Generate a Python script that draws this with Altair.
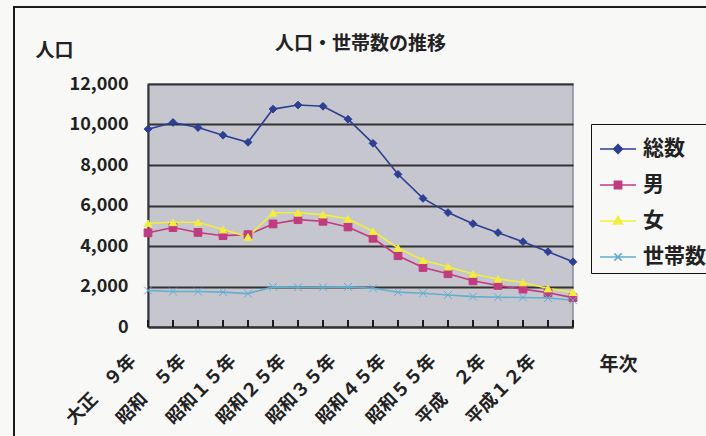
import json
import altair as alt
import pandas as pd

categories = ["大正　９年", "大正１４年", "昭和　５年", "昭和１０年", "昭和１５年", "昭和２２年",
              "昭和２５年", "昭和３０年", "昭和３５年", "昭和４０年", "昭和４５年", "昭和５０年",
              "昭和５５年", "昭和６０年", "平成　２年", "平成　７年", "平成１２年", "平成１７年"]
shown_labels = ["大正　９年", "昭和　５年", "昭和１５年", "昭和２５年", "昭和３５年",
                "昭和４５年", "昭和５５年", "平成　２年", "平成１２年"]
series_names = ["総数", "男", "女", "世帯数"]
total = [9770, 10100, 9850, 9470, 9120, 10760, 10960, 10900, 10260, 9070,
         7540, 6350, 5650, 5100, 4660, 4210, 3720, 3220]
male = [4650, 4910, 4670, 4510, 4560, 5090, 5300, 5220, 4940, 4380,
        3520, 2940, 2630, 2280, 2050, 1870, 1690, 1450]
female = [5120, 5170, 5170, 4810, 4450, 5640, 5640, 5550, 5340, 4730,
          3900, 3300, 2980, 2620, 2370, 2200, 1900, 1720]
households = [1800, 1750, 1750, 1720, 1650, 1980, 1960, 1960, 1980, 1910,
              1720, 1670, 1580, 1500, 1470, 1460, 1430, 1320]
y_ticks = [0, 2000, 4000, 6000, 8000, 10000, 12000]

colors = ["#2c3f94", "#c23a80", "#f2ee3c", "#62aed0"]
shapes = ["diamond", "square", "triangle-up", "M-1,-1L1,1M-1,1L1,-1"]
legend_shapes = [
    "M-1,0H1M0,-0.24L0.24,0L0,0.24L-0.24,0Z",
    "M-1,0H1M-0.2,-0.2H0.2V0.2H-0.2Z",
    "M-1,0H1M0,-0.25L0.24,0.17L-0.24,0.17Z",
    "M-1,0H1M-0.2,-0.2L0.2,0.2M-0.2,0.2L0.2,-0.2",
]

rows = []
for name, vals in zip(series_names, [total, male, female, households]):
    for i, (c, v) in enumerate(zip(categories, vals)):
        rows.append({"year": c, "idx": i, "series": name, "value": v})
df = pd.DataFrame(rows)
cat_df = pd.DataFrame({"year": categories})

FONT = "Noto Sans CJK JP"
W, H = 425, 243

x_enc = alt.X("year:N", sort=categories,
              scale=alt.Scale(type="point", padding=0, domain=categories),
              axis=alt.Axis(
                  title="年次", titleAngle=0, titleX=451, titleY=47,
                  titleAlign="left", titleBaseline="bottom",
                  titleFontSize=19, titleFont=FONT, titleFontWeight="bold",
                  titleColor="#222",
                  labelExpr="indexof(" + json.dumps(shown_labels, ensure_ascii=False)
                            + ", datum.value) >= 0 ? datum.value : ''",
                  labelAngle=-45, labelAlign="right", labelBaseline="middle",
                  labelFontSize=18, labelFont=FONT, labelFontWeight="bold",
                  labelColor="#222", labelPadding=31, labelOffset=-15,
                  labelOverlap=False, labelBound=False, labelLimit=200,
                  ticks=False, grid=False, domain=True,
                  domainColor="#333", domainWidth=2))

y_scale = alt.Scale(domain=[0, 12000], nice=False, zero=True)
y_axis = alt.Axis(values=y_ticks, format=",d", title="人口", titleAngle=0,
                  titleX=-113, titleY=-24, titleAlign="left",
                  titleBaseline="bottom", titleFontSize=19, titleFont=FONT,
                  titleFontWeight="bold", titleColor="#222",
                  labelFontSize=18, labelFont=FONT, labelFontWeight="bold",
                  labelColor="#222", labelPadding=20, ticks=False,
                  grid=True, gridColor="#333333", gridWidth=1.8,
                  domain=True, domainColor="#333", domainWidth=2)

frame = alt.Chart(alt.Data(values=[{"a": 1}])).mark_rect(
    fill="transparent", stroke="#1a1a1a", strokeWidth=2
).encode(x=alt.value(-134), x2=alt.value(700), y=alt.value(-77), y2=alt.value(500))

ticks = alt.Chart(cat_df).mark_rule(color="#1a1a1a", strokeWidth=2).encode(
    x=alt.X("year:N", sort=categories), y=alt.value(H), y2=alt.value(H - 7))

lines = alt.Chart(df).mark_line(strokeWidth=1.6).encode(
    x=x_enc,
    y=alt.Y("value:Q", scale=y_scale, axis=y_axis),
    color=alt.Color("series:N", sort=series_names,
                    scale=alt.Scale(domain=series_names, range=colors),
                    legend=None),
    order=alt.Order("idx:Q"),
)

points = alt.Chart(df).mark_point(filled=True, size=60, opacity=1, strokeWidth=1).encode(
    x=alt.X("year:N", sort=categories),
    y=alt.Y("value:Q", scale=y_scale),
    fill=alt.Fill("series:N", scale=alt.Scale(domain=series_names, range=colors), legend=None),
    stroke=alt.Stroke("series:N", scale=alt.Scale(domain=series_names, range=colors), legend=None),
    shape=alt.Shape("series:N", scale=alt.Scale(domain=series_names, range=shapes), legend=None),
)

legend = alt.Legend(
    title=None, orient="none", legendX=443, legendY=40,
    labelFontSize=21, labelFont=FONT, labelFontWeight="bold", labelColor="#222",
    symbolSize=1296, symbolStrokeWidth=1.6, labelOffset=6, symbolOffset=2,
    padding=6, rowPadding=7, strokeColor="#111", fillColor="#f8f8f6",
    symbolOpacity=1)

legend_layer = alt.Chart(df).transform_filter("false").mark_point(
    filled=True, size=1296, opacity=1, strokeWidth=1.6
).encode(
    x=alt.X("year:N", sort=categories),
    y=alt.Y("value:Q", scale=y_scale),
    fill=alt.Fill("series:N", sort=series_names,
                  scale=alt.Scale(domain=series_names, range=colors), legend=legend),
    stroke=alt.Stroke("series:N", sort=series_names,
                      scale=alt.Scale(domain=series_names, range=colors), legend=legend),
    shape=alt.Shape("series:N", sort=series_names,
                    scale=alt.Scale(domain=series_names, range=legend_shapes), legend=legend),
)

chart = alt.layer(frame, ticks, lines, points, legend_layer).resolve_scale(
    shape="independent", fill="independent", stroke="independent"
).properties(
    width=W, height=H,
    title=alt.TitleParams("人口・世帯数の推移", anchor="middle", frame="group",
                          fontSize=19, font=FONT, fontWeight="bold", color="#222",
                          offset=0, dy=48),
    autosize=alt.AutoSizeParams(type="none"),
    padding={"left": 148, "top": 84, "right": 133, "bottom": 109},
    background="#f8f8f6",
).configure_view(fill="#c6c6ce", stroke="#8a8aa0", strokeWidth=1.5)

chart.save("out.html", embed_options={"renderer": "svg", "actions": False})
